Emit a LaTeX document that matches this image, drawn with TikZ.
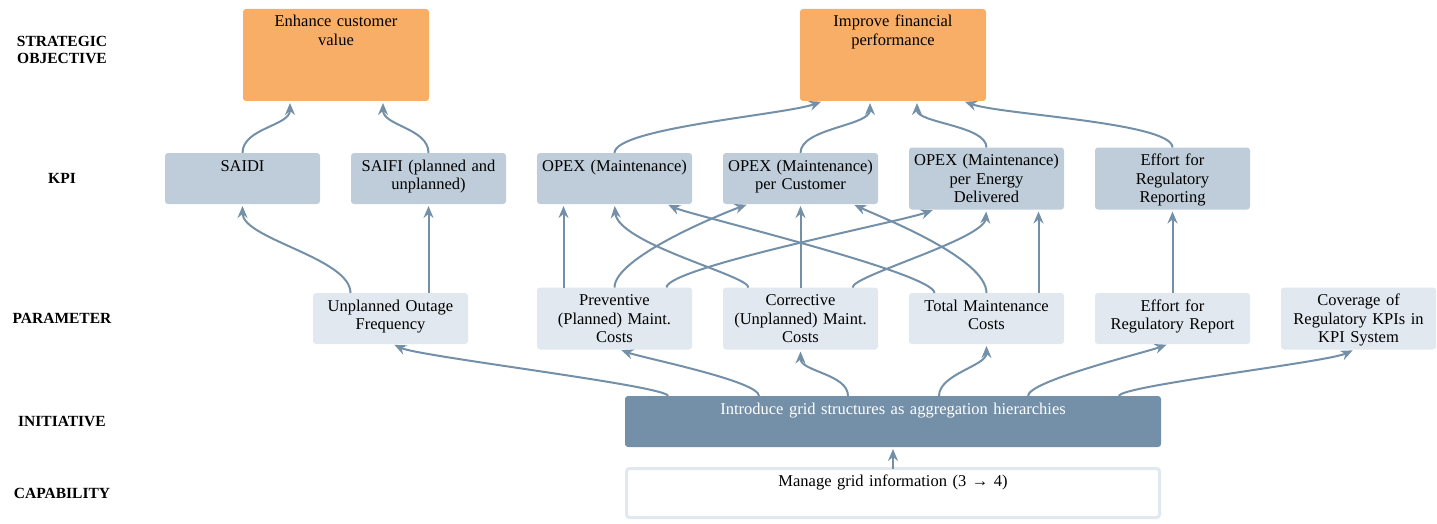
\documentclass[tikz,border=0pt]{standalone}
\usepackage{fontspec}
\setmainfont{Liberation Serif}
\usetikzlibrary{positioning,arrows.meta}

\definecolor{objfill}{HTML}{F8AE66}
\definecolor{kpifill}{HTML}{BECDD9}
\definecolor{paramfill}{HTML}{E1E8EF}
\definecolor{initfill}{HTML}{7390A8}
\definecolor{linkcol}{HTML}{7390A8}

\newcommand{\boxfont}{\fontsize{16.5}{18.5}\selectfont}
\newcommand{\layerfont}{\fontsize{15.5}{17}\selectfont\bfseries}

\tikzset{
  box/.style={rectangle, rounded corners=3pt, inner xsep=0pt, inner ysep=6pt, outer sep=0pt,
    text width=155pt, align=center, font=\boxfont, text height=12pt, text depth=27pt},
  tall/.style={text depth=38pt},
  objective/.style={box, fill=objfill, text width=186pt, text depth=68pt},
  kpi/.style={box, fill=kpifill},
  param/.style={box, fill=paramfill},
  initiative/.style={box, fill=initfill, text=white, text width=536pt},
  capability/.style={box, fill=white, draw=paramfill, line width=3pt, text width=533pt, text depth=25pt},
  layerlabel/.style={font=\layerfont, align=center},
  link/.style={draw=linkcol, line width=2pt, shorten >=2pt, -{Stealth[length=12pt,width=10pt,inset=4pt]}},
}

\begin{document}
\begin{tikzpicture}[x=1pt, y=1pt]
\useasboundingbox (0,0) rectangle (1437,-524);

% row captions on the left
\node[layerlabel] (lobj) at (62,-50) {STRATEGIC\\OBJECTIVE};
\node[layerlabel] (lkpi) at (62,-178) {KPI};
\node[layerlabel] (lpar) at (62,-318) {PARAMETER};
\node[layerlabel] (lini) at (62,-421) {INITIATIVE};
\node[layerlabel] (lcap) at (62,-493) {CAPABILITY};

% strategic objectives
\node[objective] (enh) at (336,-55) {Enhance customer\\value};
\node[objective] (imp) at (893,-55) {Improve financial\\performance};

% KPIs
\node[kpi] (saidi) at (242.5,-178.5) {SAIDI};
\node[kpi, right=31pt of saidi] (saifi) {SAIFI (planned and\\unplanned)};
\node[kpi, right=31pt of saifi] (opexm) {OPEX (Maintenance)};
\node[kpi, right=31pt of opexm] (opexc) {OPEX (Maintenance)\\per Customer};
\node[kpi, tall, right=31pt of opexc] (opexe) {OPEX (Maintenance)\\per Energy\\Delivered};
\node[kpi, tall, right=31pt of opexe] (effrep) {Effort for\\Regulatory\\Reporting};

% parameters
\node[param] (upo) at (390.5,-318.5) {Unplanned Outage\\Frequency};
\node[param, tall, right=69pt of upo] (prev) {Preventive\\(Planned) Maint.\\Costs};
\node[param, tall, right=31pt of prev] (corr) {Corrective\\(Unplanned) Maint.\\Costs};
\node[param, right=31pt of corr] (total) {Total Maintenance\\Costs};
\node[param, right=31pt of total] (effrpt) {Effort for\\Regulatory Report};
\node[param, tall, right=31pt of effrpt] (cov) {Coverage of\\Regulatory KPIs in\\KPI System};

% initiative and capability
\node[initiative] (init) at (893,-421.5) {Introduce grid structures as aggregation hierarchies};
\node[capability] (cap) at (893,-493) {Manage grid information (3 → 4)};

% KPIs -> objectives
\draw[link] (saidi.north) to[out=90,in=-90,distance=25pt] ([xshift=-46pt]enh.south);
\draw[link] (saifi.north) to[out=90,in=-90,distance=25pt] ([xshift=47pt]enh.south);
\draw[link] (opexm.north) to[out=90,in=-160,out distance=25pt,in distance=40pt] ([xshift=-70pt]imp.south);
\draw[link] (opexc.north) to[out=90,in=-90,distance=25pt] ([xshift=-23pt]imp.south);
\draw[link] (opexe.north) to[out=90,in=-90,distance=22pt] ([xshift=24pt]imp.south);
\draw[link] (effrep.north) to[out=90,in=-20,out distance=25pt,in distance=40pt] ([xshift=70pt]imp.south);

% parameters -> KPIs
\draw[link] ([xshift=-40pt]upo.north) to[out=90,in=-90,distance=35pt] (saidi.south);
\draw[link] ([xshift=38pt]upo.north) -- (saifi.south);
\draw[link] ([xshift=-51pt]prev.north) -- ([xshift=-51pt]opexm.south);
\draw[link] (prev.north) to[out=90,in=-160,out distance=30pt,in distance=30pt] ([xshift=-52pt]opexc.south);
\draw[link] ([xshift=52pt]prev.north) to[out=90,in=-160,out distance=20pt,in distance=35pt] ([xshift=-52pt]opexe.south);
\draw[link] ([xshift=-52pt]corr.north) to[out=90,in=-85,out distance=12pt,in distance=40pt] (opexm.south);
\draw[link] (corr.north) -- (opexc.south);
\draw[link] ([xshift=52pt]corr.north) to[out=90,in=-95,out distance=12pt,in distance=30pt] (opexe.south);
\draw[link] ([xshift=-52pt]total.north) to[out=90,in=-25,out distance=20pt,in distance=25pt] ([xshift=52pt]opexm.south);
\draw[link] (total.north) to[out=90,in=-25,out distance=35pt,in distance=30pt] ([xshift=52pt]opexc.south);
\draw[link] ([xshift=52pt]total.north) -- ([xshift=52pt]opexe.south);
\draw[link] (effrpt.north) -- (effrep.south);

% initiative -> parameters
\draw[link] ([xshift=-225pt]init.north) to[out=90,in=-25,out distance=10pt,in distance=30pt] ([xshift=2pt]upo.south);
\draw[link] ([xshift=-134pt]init.north) to[out=90,in=-20,out distance=15pt,in distance=25pt] ([xshift=5pt]prev.south);
\draw[link] ([xshift=-45pt]init.north) to[out=90,in=-90,distance=22pt] (corr.south);
\draw[link] ([xshift=46pt]init.north) to[out=90,in=-90,distance=22pt] (total.south);
\draw[link] ([xshift=135pt]init.north) to[out=90,in=-160,out distance=15pt,in distance=25pt] ([xshift=-4pt]effrpt.south);
\draw[link] ([xshift=226pt]init.north) to[out=90,in=-155,out distance=10pt,in distance=30pt] ([xshift=-4pt]cov.south);

% capability -> initiative
\draw[link] (cap.north) -- (init.south);
\end{tikzpicture}
\end{document}
